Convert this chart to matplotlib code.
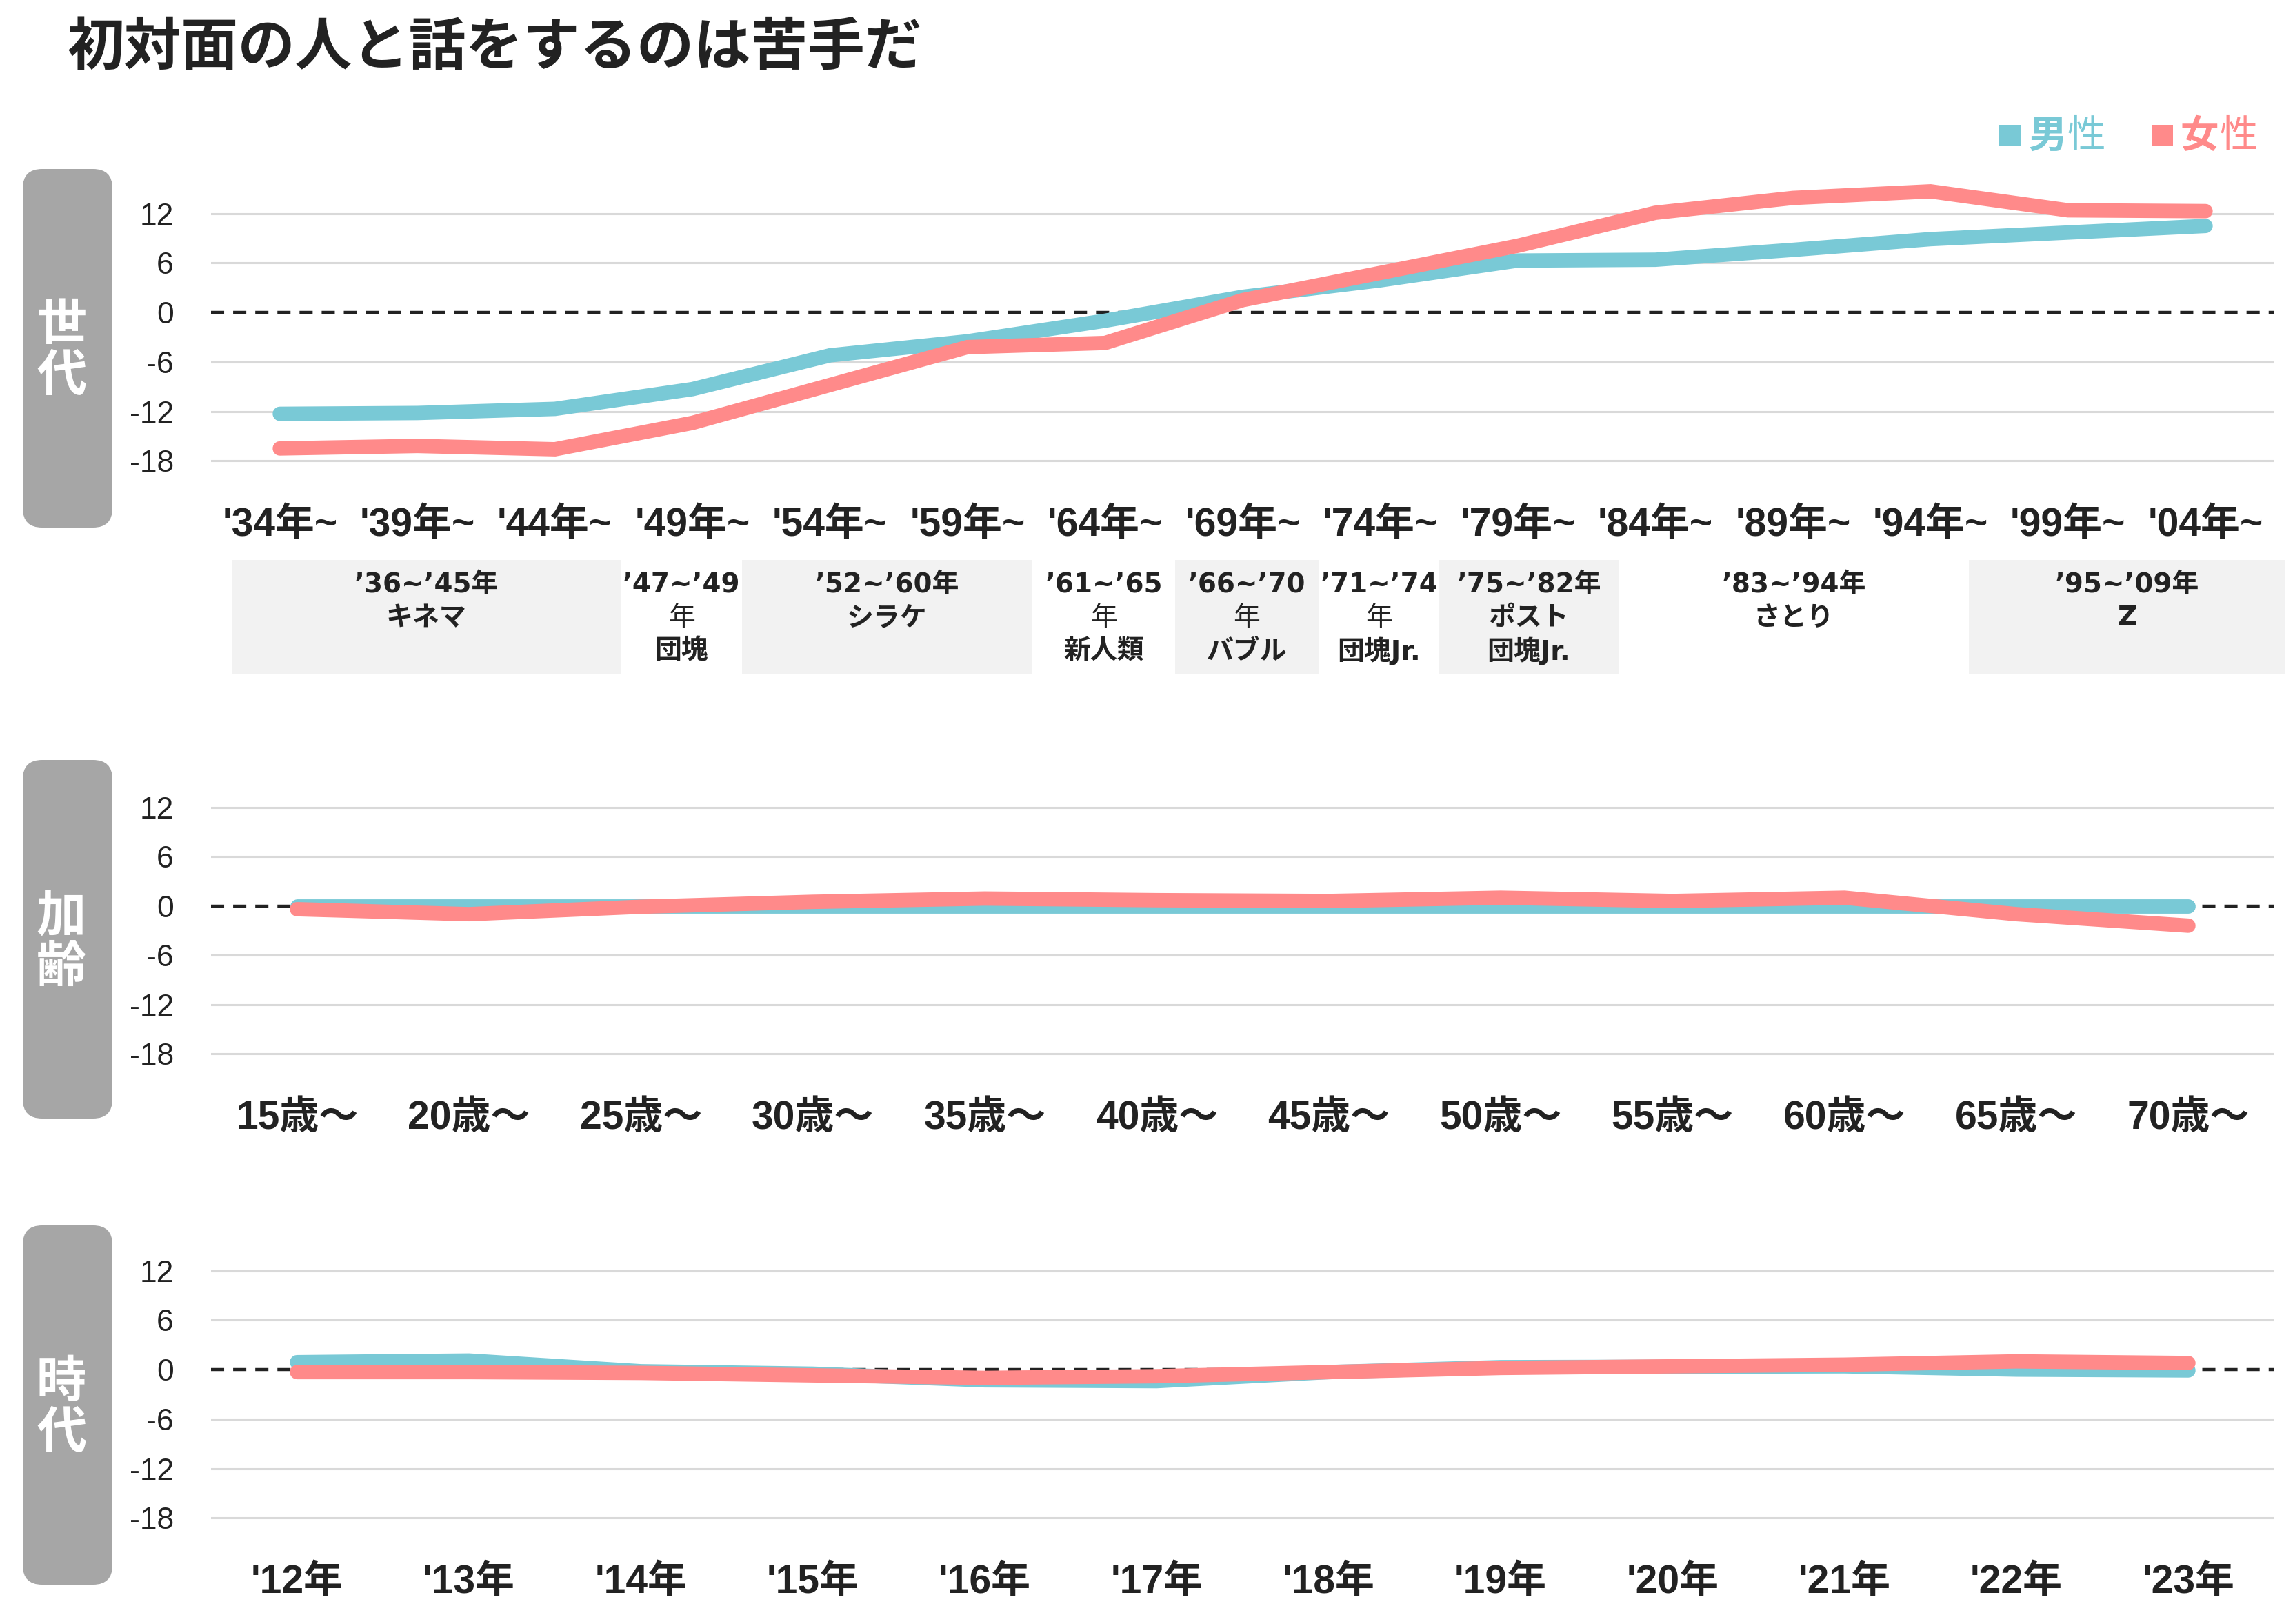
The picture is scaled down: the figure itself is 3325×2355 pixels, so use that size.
import matplotlib
matplotlib.use('Agg')
import matplotlib.pyplot as plt
from matplotlib.patches import FancyBboxPatch, Rectangle

plt.rcParams['lines.scale_dashes'] = False

# ---- data ----
cohort_labels = ["'34年~", "'39年~", "'44年~", "'49年~", "'54年~", "'59年~", "'64年~", "'69年~",
                 "'74年~", "'79年~", "'84年~", "'89年~", "'94年~", "'99年~", "'04年~"]
cohort_male = [-12.3, -12.2, -11.7, -9.3, -5.2, -3.5, -1.0, 1.9, 3.9, 6.3, 6.4, 7.6, 8.9, 9.7, 10.5]
cohort_female = [-16.5, -16.2, -16.6, -13.4, -8.8, -4.2, -3.7, 1.5, 4.8, 8.1, 12.1, 13.9, 14.7, 12.4, 12.3]

age_labels = ["15歳～", "20歳～", "25歳～", "30歳～", "35歳～", "40歳～",
              "45歳～", "50歳～", "55歳～", "60歳～", "65歳～", "70歳～"]
age_male = [0.0, 0.0, 0.0, 0.0, 0.0, 0.0, 0.0, 0.0, 0.0, 0.0, 0.0, 0.0]
age_female = [-0.4, -1.0, -0.1, 0.5, 0.9, 0.7, 0.6, 1.0, 0.6, 1.0, -1.0, -2.4]

period_labels = ["'12年", "'13年", "'14年", "'15年", "'16年", "'17年",
                 "'18年", "'19年", "'20年", "'21年", "'22年", "'23年"]
period_male = [0.9, 1.1, -0.2, -0.5, -1.3, -1.4, -0.3, 0.3, 0.35, 0.4, 0.0, -0.1]
period_female = [-0.3, -0.3, -0.4, -0.7, -1.0, -0.8, -0.3, 0.2, 0.4, 0.6, 1.0, 0.8]

gen_years = ["’36~’45年", "’47~’49\n年", "’52~’60年", "’61~’65\n年", "’66~’70\n年",
             "’71~’74\n年", "’75~’82年", "’83~’94年", "’95~’09年"]
gen_names = ["キネマ", "団塊", "シラケ", "新人類", "バブル", "団塊Jr.", "ポスト\n団塊Jr.", "さとり", "Z"]

panel_names = ["世代", "加齢", "時代"]
yticks = [-18, -12, -6, 0, 6, 12]

# ---- layout (pixels) ----
W, H = 3325, 2355
BLUE = '#79c9d6'
RED = '#ff8a8a'
DARK = '#222222'
JP = 'Noto Sans CJK JP'
TICKFONT = ['Liberation Sans', JP]
AX_X0, AX_X1 = 306, 3298

fig = plt.figure(figsize=(W / 100, H / 100), dpi=100)


def add_px_axes(x0, y0, x1, y1, **kw):
    return fig.add_axes([x0 / W, 1 - y1 / H, (x1 - x0) / W, (y1 - y0) / H], **kw)


deco = add_px_axes(0, 0, W, H)
deco.set_xlim(0, W)
deco.set_ylim(H, 0)
deco.axis('off')

# title
deco.text(98, 69, "初対面の人と話をするのは苦手だ", fontsize=59.5, fontweight='bold',
          family=JP, color=DARK, ha='left', va='center')

# legend
for x0, col, c1 in [(2899, BLUE, "男"), (3120, RED, "女")]:
    deco.add_patch(Rectangle((x0, 181), 31, 31, fc=col, ec='none'))
    deco.text(x0 + 42, 198, c1, fontsize=40, fontweight='bold', family=JP, color=col,
              ha='left', va='center')
    deco.text(x0 + 98, 198, "性", fontsize=40, fontweight='normal', family=JP, color=col,
              ha='left', va='center')

panels = [
    (250, 716, (245, 765), cohort_labels, cohort_male, cohort_female),
    (1111, 1576, (1102, 1622), age_labels, age_male, age_female),
    (1783, 2249, (1777, 2298), period_labels, period_male, period_female),
]

axes = []
for (top, bot, (by0, by1), labels, male, female), name in zip(panels, panel_names):
    # gray side label
    deco.add_patch(FancyBboxPatch((33, by0), 130, by1 - by0,
                                  boxstyle='round,pad=0,rounding_size=28',
                                  fc='#a6a6a6', ec='none'))
    cy = (by0 + by1) / 2 + 4
    for k, ch in enumerate(name):
        deco.text(89, cy + (k - 0.5) * 74, ch, fontsize=52, fontweight='bold', family=JP,
                  color='white', ha='center', va='center')

    ax = add_px_axes(AX_X0, top, AX_X1, bot)
    ax.set_facecolor('none')
    x = list(range(len(labels)))
    for t in yticks:
        if t != 0:
            ax.axhline(t, color='#d9d9d9', lw=2.2, zorder=1)
    ax.axhline(0, color=DARK, lw=3.2, ls=(0, (13.7, 9.4)), zorder=2)
    ax.plot(x, male, color=BLUE, lw=15, solid_capstyle='round', solid_joinstyle='miter', zorder=3)
    ax.plot(x, female, color=RED, lw=15, solid_capstyle='round', solid_joinstyle='miter', zorder=4)
    ax.set_xlim(-0.5, len(labels) - 0.5)
    ax.set_ylim(-22, 17)
    ax.set_xticks(x)
    ax.set_xticklabels(labels, fontsize=41, fontweight='bold', family=TICKFONT, color=DARK)
    ax.set_yticks(yticks)
    ax.set_yticklabels([str(t) for t in yticks], fontsize=32, family='Liberation Sans', color=DARK)
    ax.tick_params(axis='x', length=0, pad=14)
    ax.tick_params(axis='y', length=0, pad=39)
    for s in ax.spines.values():
        s.set_visible(False)
    axes.append(ax)

# generation bands under the cohort panel (edges in cohort-axis units)
band_edges = [-0.35, 2.48, 3.36, 5.47, 6.51, 7.55, 8.43, 9.73, 12.28, 14.58]
band_shaded = [True, False, True, False, True, False, True, False, True]

ax_band = add_px_axes(AX_X0, 812, AX_X1, 978)
ax_band.set_xlim(axes[0].get_xlim())
ax_band.set_ylim(978, 812)
ax_band.axis('off')
for i, (yrs, nm) in enumerate(zip(gen_years, gen_names)):
    e0, e1 = band_edges[i], band_edges[i + 1]
    if band_shaded[i]:
        ax_band.add_patch(Rectangle((e0, 812), e1 - e0, 166, fc='#f2f2f2', ec='none',
                                    zorder=0, clip_on=False))
    lines = yrs.split('\n') + nm.split('\n')
    for k, line in enumerate(lines):
        ax_band.text((e0 + e1) / 2, 848 + 48 * k, line, fontsize=28,
                     fontweight='normal' if line == '年' else 'bold',
                     family=['DejaVu Sans', JP], color=DARK, ha='center', va='center')

fig.savefig('out.png', dpi=100)
